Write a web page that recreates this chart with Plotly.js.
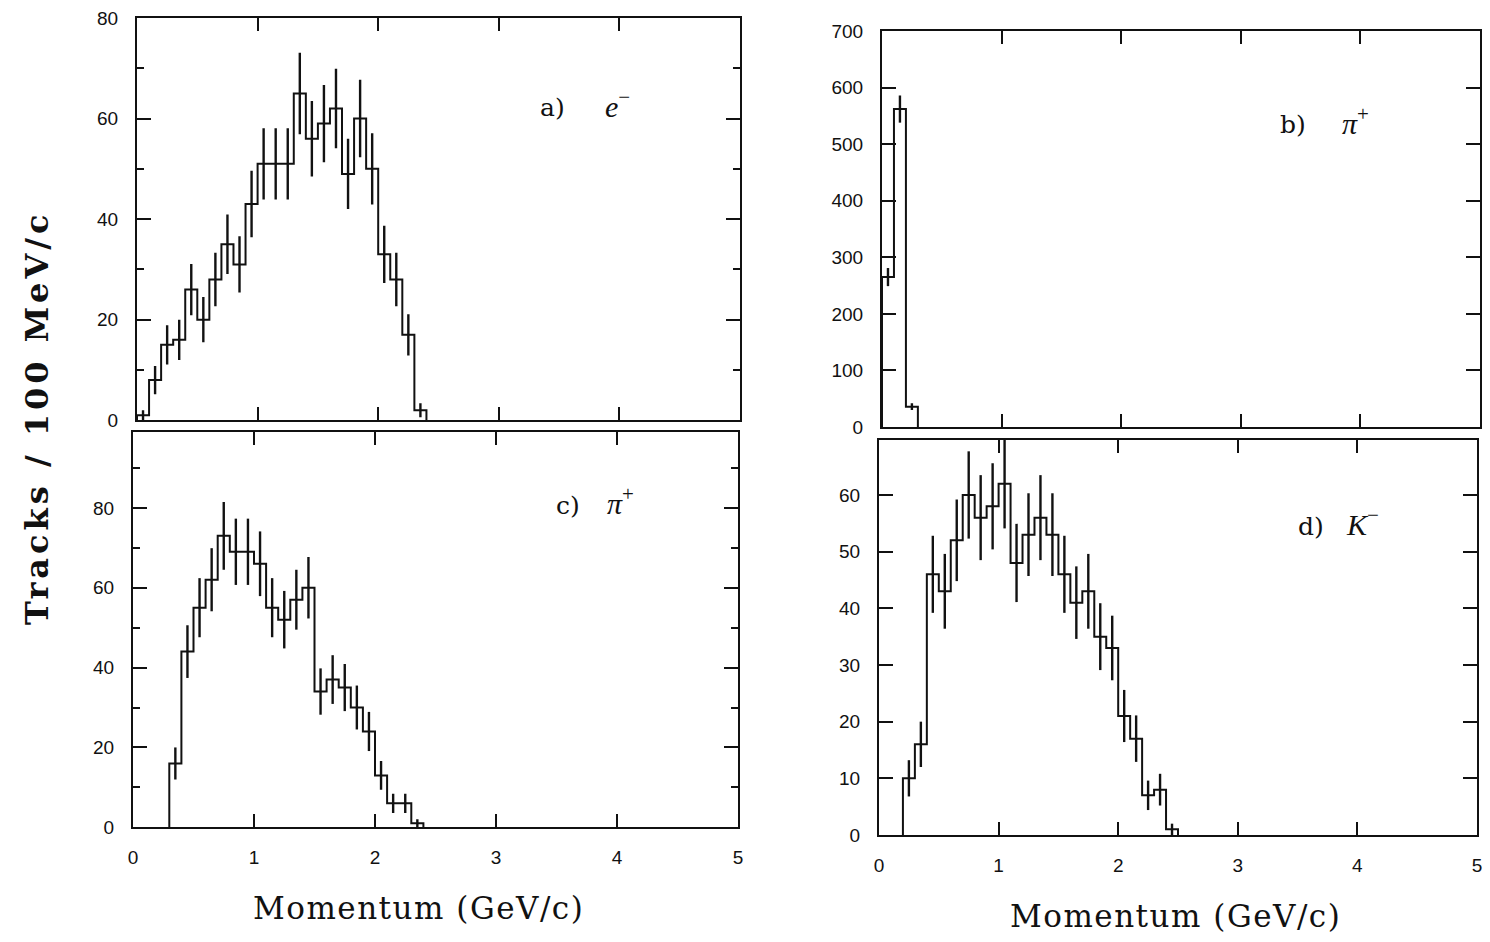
<!DOCTYPE html>
<html>
<head>
<meta charset="utf-8">
<script src="https://cdn.plot.ly/plotly-3.0.1.min.js"></script>
<style>html,body{margin:0;padding:0;background:#fff;}#chart{width:1490px;height:942px;}</style>
</head>
<body>
<div id="chart"></div>
<script>
// ---- data (bin centres in GeV/c, counts per 100 MeV/c, error half-lengths) ----
const aMomentum = [0.05,0.15,0.25,0.35,0.45,0.55,0.65,0.75,0.85,0.95,1.05,1.15,1.25,1.35,1.45,1.55,1.65,1.75,1.85,1.95,2.05,2.15,2.25,2.35];
const aCounts   = [1,8,15,16,26,20,28,35,31,43,51,51,51,65,56,59,62,49,60,50,33,28,17,2];
const aErrors   = [1.0,2.8,3.9,4.0,5.1,4.5,5.3,5.9,5.6,6.6,7.1,7.1,7.1,8.1,7.5,7.7,7.9,7.0,7.7,7.1,5.7,5.3,4.1,1.4];

const bMomentum = [0.05,0.15,0.25];
const bCounts   = [265,562,36];
const bErrors   = [16,24,6];

const cMomentum = [0.35,0.45,0.55,0.65,0.75,0.85,0.95,1.05,1.15,1.25,1.35,1.45,1.55,1.65,1.75,1.85,1.95,2.05,2.15,2.25,2.35];
const cCounts   = [16,44,55,62,73,69,69,66,55,52,57,60,34,37,35,30,24,13,6,6,1];
const cErrors   = [4.0,6.6,7.4,7.9,8.5,8.3,8.3,8.1,7.4,7.2,7.5,7.7,5.8,6.1,5.9,5.5,4.9,3.6,2.4,2.4,1.0];

const dMomentum = [0.25,0.35,0.45,0.55,0.65,0.75,0.85,0.95,1.05,1.15,1.25,1.35,1.45,1.55,1.65,1.75,1.85,1.95,2.05,2.15,2.25,2.35,2.45];
const dCounts   = [10,16,46,43,52,60,56,58,62,48,53,56,53,46,41,43,35,33,21,17,7,8,1];
const dErrors   = [3.2,4.0,6.8,6.6,7.2,7.7,7.5,7.6,7.9,6.9,7.3,7.5,7.3,6.8,6.4,6.6,5.9,5.7,4.6,4.1,2.6,2.8,1.0];

const binWidth = 0.1;
const xTickVals = [0,1,2,3,4,5];
const panelLabels = ["a)","b)","c)","d)"];
const particleLabels = ["<i>e</i><sup>−</sup>","<i>π</i><sup>+</sup>","<i>π</i><sup>+</sup>","<i>K</i><sup>−</sup>"];
const yTitle = "Tracks / 100 MeV/c";
const xTitle = "Momentum (GeV/c)";

// ---- helpers ----
const W = 1490, H = 942;
const px = v => v / W;
const py = v => 1 - v / H;

function stepTrace(centers, counts, xa, ya) {
  const xs = [centers[0] - binWidth/2];
  const ys = [0];
  for (let i = 0; i < centers.length; i++) {
    xs.push(centers[i] - binWidth/2);
    ys.push(counts[i]);
  }
  xs.push(centers[centers.length-1] + binWidth/2);
  ys.push(counts[counts.length-1]);
  xs.push(centers[centers.length-1] + binWidth/2);
  ys.push(0);
  return {x: xs, y: ys, xaxis: xa, yaxis: ya, type: 'scatter', mode: 'lines',
          line: {shape: 'hv', color: '#111', width: 2}, hoverinfo: 'skip', showlegend: false};
}
function errTrace(centers, counts, errs, xa, ya) {
  return {x: centers, y: counts, xaxis: xa, yaxis: ya, type: 'scatter', mode: 'markers',
          marker: {size: 1, color: 'rgba(0,0,0,0)'},
          error_y: {type: 'data', array: errs, visible: true, width: 0, thickness: 2.4, color: '#111'},
          hoverinfo: 'skip', showlegend: false};
}

const data = [
  stepTrace(aMomentum, aCounts, 'x', 'y'),   errTrace(aMomentum, aCounts, aErrors, 'x', 'y'),
  stepTrace(bMomentum, bCounts, 'x2', 'y2'), errTrace(bMomentum, bCounts, bErrors, 'x2', 'y2'),
  stepTrace(cMomentum, cCounts, 'x3', 'y3'), errTrace(cMomentum, cCounts, cErrors, 'x3', 'y3'),
  stepTrace(dMomentum, dCounts, 'x4', 'y4'), errTrace(dMomentum, dCounts, dErrors, 'x4', 'y4')
];

const tickFont = {family: 'Liberation Sans, Arial, sans-serif', size: 19, color: '#111'};
function xAxis(domL, domR, anchor, labels) {
  return {domain: [px(domL), px(domR)], anchor: anchor, range: [0, 5],
          tickvals: xTickVals, ticktext: xTickVals.map(String), showticklabels: labels,
          ticks: 'inside', ticklen: 13, tickwidth: 2, tickcolor: '#111',
          showline: true, linewidth: 2, linecolor: '#111', mirror: 'ticks',
          showgrid: false, zeroline: false, tickfont: tickFont, ticklabelstandoff: 12, fixedrange: true};
}
function yAxis(top, bottom, anchor, rmax, dtick, minorDtick) {
  const ax = {domain: [py(bottom), py(top)], anchor: anchor, range: [0, rmax],
          tick0: 0, dtick: dtick, ticks: 'inside', ticklen: 14, tickwidth: 2, tickcolor: '#111',
          showline: true, linewidth: 2, linecolor: '#111', mirror: 'ticks',
          showgrid: false, zeroline: false, tickfont: tickFont, ticklabelstandoff: 13, fixedrange: true};
  if (minorDtick) ax.minor = {dtick: minorDtick, ticks: 'inside', ticklen: 7, tickwidth: 2, tickcolor: '#111', showgrid: false};
  return ax;
}

const layout = {
  width: W, height: H, margin: {l: 0, r: 0, t: 0, b: 0},
  paper_bgcolor: '#fff', plot_bgcolor: '#fff', showlegend: false,
  xaxis:  xAxis(137, 740, 'y', false),
  yaxis:  yAxis(18, 420.3, 'x', 80, 20, 10),
  xaxis2: xAxis(882, 1480, 'y2', false),
  yaxis2: yAxis(31, 427, 'x2', 700, 100, null),
  xaxis3: xAxis(133, 738, 'y3', true),
  yaxis3: yAxis(432, 827.3, 'x3', 99, 20, 10),
  xaxis4: xAxis(879, 1477, 'y4', true),
  yaxis4: yAxis(440, 835, 'x4', 69.7, 10, null),
  annotations: []
};

const labelFont = {family: 'DejaVu Serif, serif', size: 25, color: '#111'};
const particleFont = {family: 'Liberation Serif, serif', size: 30, color: '#111'};
const labelPos = [[552,108,617,104],[1293,125,1355,121],[568,505,620,501],[1311,526,1362,522]];
for (let i = 0; i < 4; i++) {
  const p = labelPos[i];
  layout.annotations.push({xref:'paper', yref:'paper', x: px(p[0]), y: py(p[1]), text: panelLabels[i],
    showarrow:false, xanchor:'center', yanchor:'middle', font: labelFont});
  layout.annotations.push({xref:'paper', yref:'paper', x: px(p[2]), y: py(p[3]), text: particleLabels[i],
    showarrow:false, xanchor:'center', yanchor:'middle', font: particleFont});
}
layout.annotations.push({xref:'paper', yref:'paper', x: px(37), y: py(418), text: '<b>' + yTitle + '</b>',
  textangle: -90, showarrow:false, xanchor:'center', yanchor:'middle',
  font: {family: 'DejaVu Serif, serif', size: 32, color: '#111'}});
layout.annotations.push({xref:'paper', yref:'paper', x: px(418), y: py(908), text: xTitle,
  showarrow:false, xanchor:'center', yanchor:'middle',
  font: {family: 'DejaVu Serif, serif', size: 31, color: '#111'}});
layout.annotations.push({xref:'paper', yref:'paper', x: px(1175), y: py(916), text: xTitle,
  showarrow:false, xanchor:'center', yanchor:'middle',
  font: {family: 'DejaVu Serif, serif', size: 31, color: '#111'}});

Plotly.newPlot('chart', data, layout, {staticPlot: true, displayModeBar: false}).then(function (gd) {
  // widen the titles a little, as in the original typeset figure
  const spacing = {8: '4px', 9: '1.5px', 10: '1.5px'};
  gd.querySelectorAll('g.annotation').forEach(function (g) {
    const idx = g.getAttribute('data-index');
    if (spacing[idx]) {
      const t = g.querySelector('text.annotation-text');
      if (t) t.style.letterSpacing = spacing[idx];
    }
  });
});
</script>
</body>
</html>
